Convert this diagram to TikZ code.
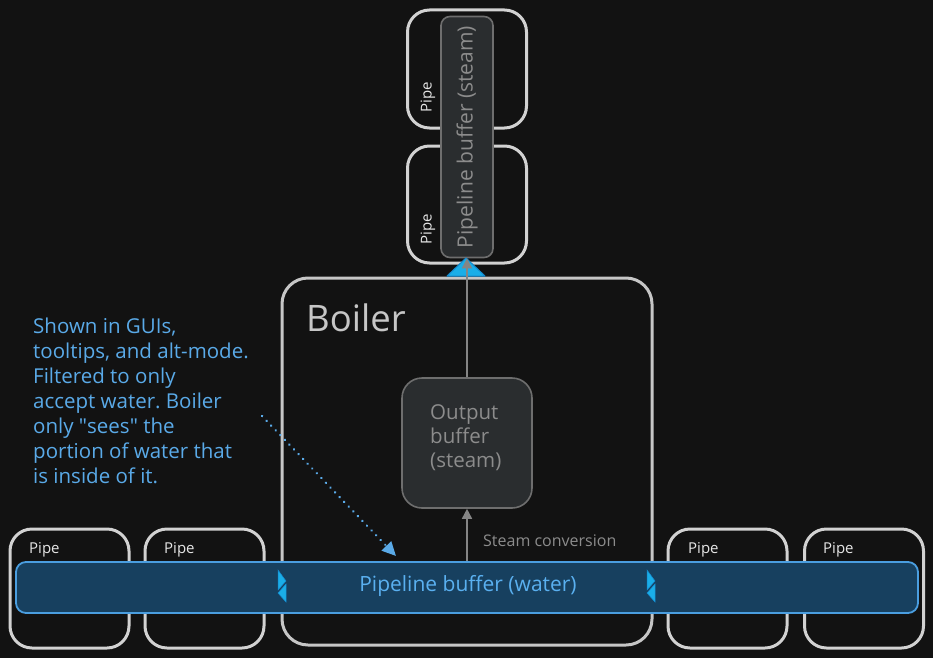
\documentclass[tikz,border=0pt]{standalone}
\usepackage{fontspec}
\setmainfont{Open Sans}
\usetikzlibrary{arrows.meta}
\frenchspacing
\definecolor{bg}{HTML}{121212}
\definecolor{pipegray}{HTML}{D2D2D2}
\definecolor{boilergray}{HTML}{C6C6C6}
\definecolor{buffill}{HTML}{2A2D2F}
\definecolor{bufdraw}{HTML}{6E6E6E}
\definecolor{buftext}{HTML}{8C8C8C}
\definecolor{waterfill}{HTML}{17405F}
\definecolor{waterdraw}{HTML}{4A9EE0}
\definecolor{watertext}{HTML}{5AB0F0}
\definecolor{note}{HTML}{5AAAE8}
\definecolor{marker}{HTML}{1AAEE8}
\definecolor{markeredge}{HTML}{1488CC}
\definecolor{arrowgray}{HTML}{858585}
\definecolor{pipetext}{HTML}{E6E6E6}
\tikzset{
  pipebox/.style={draw=pipegray, line width=3pt, rounded corners=22pt, inner sep=0pt,
    minimum width=119pt, minimum height=119pt},
  pipelabel/.style={text=pipetext, font=\fontsize{15}{17}\selectfont, inner sep=0pt},
  bufbox/.style={draw=bufdraw, fill=buffill, line width=1.6pt, inner sep=0pt},
  grayarrow/.style={draw=arrowgray, line width=1.6pt, -{Triangle[length=10pt,width=10pt]}},
  markertri/.style={fill=marker, draw=markeredge, line width=0.5pt},
}
\begin{document}
\begin{tikzpicture}[x=1pt,y=-1pt]
\fill[bg] (0,0) rectangle (933,658);
\useasboundingbox (0,0) rectangle (933,658);

% bottom pipes
\node[pipebox] (p1) at (69.5,588.5) {};
\node[pipebox] (p2) at (204.5,588.5) {};
\node[pipebox] (p3) at (727.5,588.5) {};
\node[pipebox] (p4) at (864,588.5) {};
\node[pipelabel, anchor=west] (p1l) at (29,550) {Pipe};
\node[pipelabel, anchor=west] (p2l) at (164,550) {Pipe};
\node[pipelabel, anchor=west] (p3l) at (688,550) {Pipe};
\node[pipelabel, anchor=west] (p4l) at (823,550) {Pipe};

% top pipes
\node[pipebox, minimum height=118pt] (tp1) at (467,69) {};
\node[pipebox, minimum height=117pt] (tp2) at (467,204.5) {};
\node[pipelabel, rotate=90, anchor=west] (tp1l) at (428,113) {Pipe};
\node[pipelabel, rotate=90, anchor=west] (tp2l) at (428,245) {Pipe};

% steam pipeline buffer
\node[bufbox, rounded corners=9pt, minimum width=52pt, minimum height=241pt] (steam) at (467,137) {};
\node[text=buftext, rotate=90, font=\fontsize{21}{22}\selectfont, inner sep=0pt] (steamt) at (467,137) {Pipeline buffer (steam)};

% boiler
\node[draw=boilergray, line width=3pt, rounded corners=26pt, minimum width=370pt, minimum height=367pt, inner sep=0pt] (boiler) at (467,461.5) {};
\node[text=boilergray, font=\fontsize{36.5}{38}\selectfont, anchor=west, inner sep=0pt] (boilert) at (306,318) {Boiler};

% output buffer
\node[bufbox, rounded corners=20pt, minimum width=130pt, minimum height=130pt] (out) at (467,443) {};
\node[text=buftext, font=\fontsize{20.5}{24}\selectfont, align=left, anchor=north west, inner sep=0pt] (outt) at (430,404) {Output\\buffer\\(steam)};

% blue triangle at steam buffer inlet
\fill[marker] (466,258) -- (485,276) -- (447,276) -- cycle;
\draw[markeredge, line width=1pt, line join=round] (466,258) -- (485,276) -- (447,276) -- cycle;

% output -> steam buffer
\draw[grayarrow] (out.north) -- (steam.south);

% water pipeline buffer
\node[draw=waterdraw, fill=waterfill, line width=1.8pt, rounded corners=10pt, minimum width=902pt, minimum height=51pt, inner sep=0pt] (water) at (467,587.5) {};
\node[text=watertext, font=\fontsize{21}{22}\selectfont, inner sep=0pt] (watert) at (468,586) {Pipeline buffer (water)};

% steam conversion arrow
\draw[grayarrow] (water.north) -- (out.south);
\node[text=buftext, font=\fontsize{16}{18}\selectfont, anchor=west, inner sep=0pt] (conv) at (483,541) {Steam conversion};

% markers at boiler edges
\foreach \mx in {278,647}{
  \filldraw[markertri] (\mx,570) -- (\mx+8,581) -- (\mx,590) -- cycle;
  \filldraw[markertri] (\mx+8,584) -- (\mx+8,602) -- (\mx,593) -- cycle;
}

% annotation
\node[text=note, font=\fontsize{20.5}{25}\selectfont, align=left, anchor=north west, inner sep=0pt] (noteT) at (33,318) {Shown in GUIs,\\tooltips, and alt-mode.\\Filtered to only\\accept water. Boiler\\only \textquotedbl sees\textquotedbl{} the\\portion of water that\\is inside of it.};
\coordinate (noteS) at (262,416);
\coordinate (noteE) at (396,556);
\draw[note, line width=2.6pt, dash pattern=on 0.1pt off 6.5pt, line cap=round, -{Triangle[length=14pt,width=13pt]}] (noteS) -- (noteE);
\end{tikzpicture}
\end{document}
